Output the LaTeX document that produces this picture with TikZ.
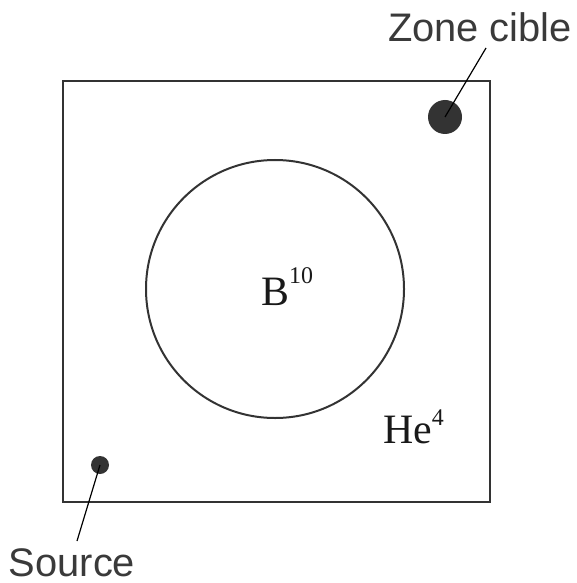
\documentclass[tikz,border=0pt]{standalone}
\usepackage{fontspec}
\setmainfont{Liberation Serif}
\newfontfamily\labelfont{Liberation Sans}
\definecolor{ink}{HTML}{333333}
\definecolor{txt}{HTML}{3A3A3A}
\begin{document}
\begin{tikzpicture}[x=1bp,y=-1bp,
  outline/.style={draw=ink, line width=2bp, inner sep=0},
  dot/.style={circle, fill=ink, inner sep=0},
  pointer/.style={draw=black, line width=1.2bp},
  callout/.style={font=\labelfont\fontsize{40}{48}\selectfont, text=txt, inner sep=0, anchor=base},
  species/.style={font=\fontsize{42}{50}\selectfont, text=black!90, inner sep=0, anchor=base west}]
\useasboundingbox (0,0) rectangle (577,583);
\node[outline, minimum width=427bp, minimum height=421bp, anchor=north west] (box) at (62,80) {};
\node[outline, circle, minimum size=258bp] (pool) at (275,289) {};
\node[dot, minimum size=34bp] (target) at (445,117) {};
\node[dot, minimum size=18bp] (src) at (100,465) {};
\coordinate (tend) at (486,48);
\coordinate (send) at (77,541);
\draw[pointer] (target.center) -- (tend);
\draw[pointer] (src.center) -- (send);
\node[callout] (zlabel) at (480,42) {Zone cible};
\node[callout] (slabel) at (72,576) {Source};
\node[species] (boron) at (261,305) {B\raisebox{22bp}{\fontsize{24}{24}\selectfont 10}};
\node[species] (helium) at (383,443) {He\raisebox{18bp}{\fontsize{24}{24}\selectfont 4}};
\end{tikzpicture}
\end{document}
